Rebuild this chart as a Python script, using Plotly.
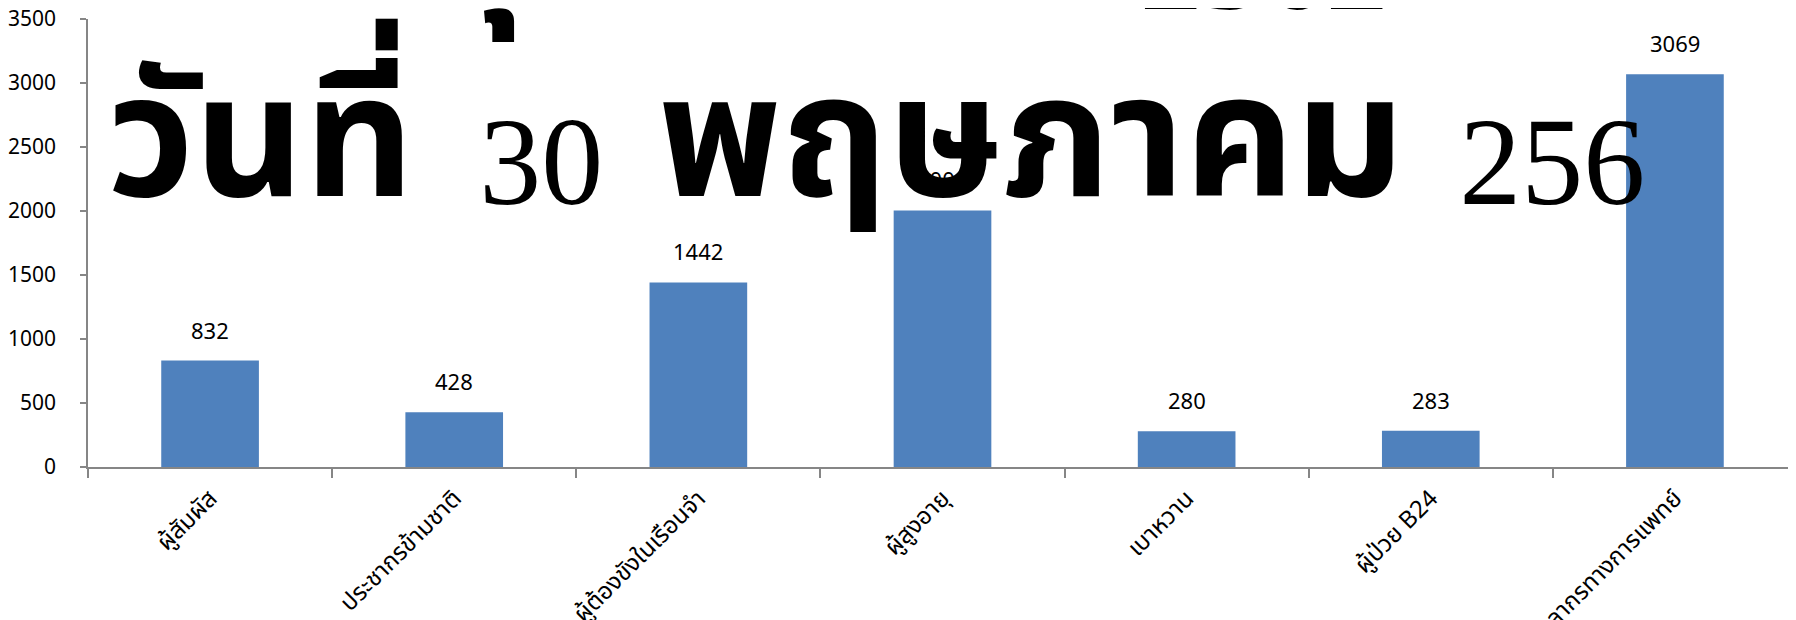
import plotly.graph_objects as go

categories = ["ผู้สัมผัส", "ประชากรข้ามชาติ", "ผู้ต้องขังในเรือนจำ", "ผู้สูงอายุ",
              "เบาหวาน", "ผู้ป่วย B24", "บุคลากรทางการแพทย์"]
values = [832, 428, 1442, 2004, 280, 283, 3069]
y_ticks = [0, 500, 1000, 1500, 2000, 2500, 3000, 3500]

SERIF2 = "font-family:Liberation Serif;font-weight:normal;font-size:124px;baseline-shift:-8px"
SERIF1 = "font-family:Liberation Serif;font-weight:bold;font-size:124px;baseline-shift:-12px"
GAP = " \u200a"
WIDE_GAP = " \u200a\u200a"


def serif(s, style):
    return "<span style='" + style + "'>" + s + "</span>"


title_line1 = "<b>กลุ่มเสี่ยง</b>" + GAP + GAP + "\u200a\u200a\u200a" + serif("2562", SERIF1)
title_line2 = ("<b>วันที่</b>" + WIDE_GAP + serif("30", SERIF2) + GAP +
               "<b>พฤษภาคม</b>" + GAP + serif("256", SERIF2))

THAI = "Noto Sans Thai, Noto Sans, Tahoma, sans-serif"
AXIS = "#868686"

fig = go.Figure()
fig.add_trace(go.Bar(
    x=categories, y=values,
    marker=dict(color="#4F81BD", line=dict(width=0)),
    width=0.4,
    cliponaxis=False,
))

label_annotations = [
    dict(x=c, y=v, xref="x", yref="y", text=str(v), showarrow=False,
         xanchor="center", yanchor="bottom", yshift=14,
         font=dict(family="Noto Sans, sans-serif", size=22, color="#000000"))
    for c, v in zip(categories, values)
]

title_annotations = [
    dict(text=title_line1, xref="paper", yref="paper",
         x=0.762, y=0.873, xanchor="right", yanchor="bottom", showarrow=False,
         font=dict(family=THAI, size=170, color="#000000")),
    dict(text=title_line2, xref="paper", yref="paper",
         x=0.0099, y=0.429, xanchor="left", yanchor="bottom", showarrow=False,
         font=dict(family=THAI, size=170, color="#000000")),
]

fig.update_layout(
    width=1796, height=620,
    margin=dict(l=80, r=7, t=11, b=161, autoexpand=False),
    paper_bgcolor="white", plot_bgcolor="white",
    showlegend=False,
    font=dict(family=THAI, color="#000000"),
    xaxis=dict(
        showline=True, linecolor=AXIS, linewidth=1.5,
        ticks="outside", tickson="boundaries", ticklen=9, tickcolor=AXIS, tickwidth=1.5,
        tickangle=-45, tickfont=dict(family=THAI, size=24, color="#000000"),
        ticklabelstandoff=6,
        showgrid=False, automargin=False,
    ),
    yaxis=dict(
        range=[0, 3500], tickvals=y_ticks, ticktext=[str(t) for t in y_ticks],
        showline=True, linecolor=AXIS, linewidth=1.5,
        ticks="outside", ticklen=6, tickcolor=AXIS, tickwidth=1.5,
        tickfont=dict(family="Noto Sans, sans-serif", size=21, color="#000000"),
        ticklabelstandoff=20, ticklabeloverflow="allow",
        showgrid=False, zeroline=False, automargin=False,
    ),
    annotations=label_annotations + title_annotations,
)

fig.write_html("out.html")
